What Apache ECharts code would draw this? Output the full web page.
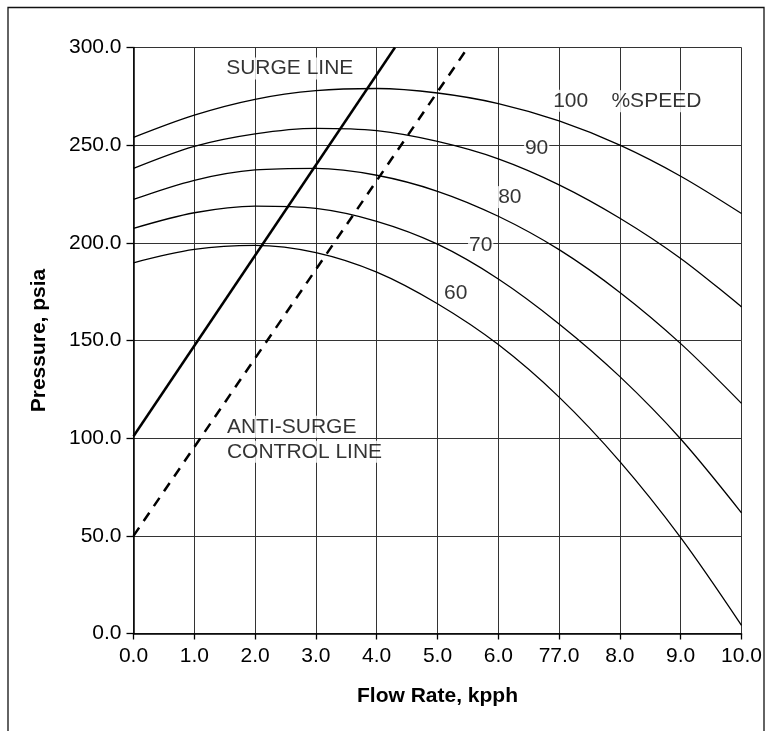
<!DOCTYPE html>
<html>
<head>
<meta charset="utf-8">
<script src="https://cdn.jsdelivr.net/npm/echarts@6/dist/echarts.min.js"></script>
<style>
html,body{margin:0;padding:0;background:#fff;}
#chart{width:771px;height:731px;}
</style>
</head>
<body>
<div id="chart"></div>
<script>
// ---- data ----
const flowRate = [0, 1, 2, 3, 4, 5, 6, 7, 8, 9, 10];
const speed100 = [254.0, 265.4, 273.5, 277.9, 279.0, 276.7, 271.3, 262.4, 250.0, 234.1, 215.0];
const speed90  = [238.1, 249.4, 255.8, 258.6, 257.4, 251.9, 243.0, 229.7, 212.6, 192.0, 167.2];
const speed80  = [222.2, 232.0, 237.3, 238.1, 234.6, 226.4, 213.6, 196.5, 174.6, 148.4, 117.8];
const speed70  = [207.4, 215.4, 218.8, 217.6, 211.0, 199.3, 181.5, 158.5, 131.5, 99.6, 61.8];
const speed60  = [189.8, 196.6, 198.7, 195.0, 185.0, 168.8, 147.9, 121.0, 88.0, 49.1, 4.2];

const surgeLineX = [0, 4.3];
const surgeLineY = [101, 300];
const antiSurgeX = [0, 5.5];
const antiSurgeY = [50, 300];

const xTickLabels = ['0.0', '1.0', '2.0', '3.0', '4.0', '5.0', '6.0', '77.0', '8.0', '9.0', '10.0'];
const yTickLabels = ['0.0', '50.0', '100.0', '150.0', '200.0', '250.0', '300.0'];

// annotations: text, x, y (data units), horizontal alignment
const annoText  = ['SURGE LINE', '100', '%SPEED', '90', '80', '70', '60', 'ANTI-SURGE', 'CONTROL LINE'];
const annoX     = [2.57, 7.19, 8.60, 6.63, 6.19, 5.71, 5.30, 1.52, 1.52];
const annoY     = [289.3, 272.7, 272.5, 248.3, 223.4, 198.8, 174.4, 105.8, 93.0];
const annoAlign = ['center', 'center', 'center', 'center', 'center', 'center', 'center', 'left', 'left'];

// ---- chart ----
const FONT = 'Liberation Sans, Arial, sans-serif';
const pairs = (xs, ys) => xs.map((x, i) => [x, ys[i]]);

function speedSeries(vals) {
  return {
    type: 'line',
    data: pairs(flowRate, vals),
    smooth: 0.33,
    showSymbol: false,
    symbol: 'none',
    lineStyle: { color: '#000', width: 1.3 },
    z: 3,
    silent: true
  };
}

const chart = echarts.init(document.getElementById('chart'), null, { renderer: 'canvas' });
chart.setOption({
  animation: false,
  backgroundColor: '#fff',
  textStyle: { fontFamily: FONT },
  grid: { left: 133.5, right: 29.5, top: 47.5, bottom: 97.5, containLabel: false },
  graphic: [{
    type: 'rect',
    shape: { x: 8, y: 7.5, width: 756, height: 800 },
    style: { fill: 'none', stroke: '#111', lineWidth: 1.3 },
    silent: true, z: -1
  }],
  xAxis: {
    type: 'value', min: 0, max: 10, interval: 1,
    name: 'Flow Rate, kpph', nameLocation: 'middle', nameGap: 52,
    nameTextStyle: { fontFamily: FONT, fontSize: 21, fontWeight: 'bold', color: '#000' },
    axisLine: { show: true, onZero: false, lineStyle: { color: '#000', width: 1.5 } },
    axisTick: { show: true, inside: false, length: 6, lineStyle: { color: '#000', width: 1.3 } },
    axisLabel: {
      fontFamily: FONT, fontSize: 21, color: '#000', margin: 12,
      formatter: v => xTickLabels[Math.round(v)]
    },
    splitLine: { show: true, lineStyle: { color: '#333', width: 1 } }
  },
  yAxis: {
    type: 'value', min: 0, max: 300, interval: 50,
    name: 'Pressure, psia', nameLocation: 'middle', nameGap: 84, nameRotate: 90,
    nameTextStyle: { fontFamily: FONT, fontSize: 21, fontWeight: 'bold', color: '#000' },
    axisLine: { show: true, onZero: false, lineStyle: { color: '#000', width: 1.5 } },
    axisTick: { show: true, inside: false, length: 7, lineStyle: { color: '#000', width: 1.3 } },
    axisLabel: {
      fontFamily: FONT, fontSize: 21, color: '#000', margin: 12,
      formatter: v => yTickLabels[Math.round(v / 50)]
    },
    splitLine: { show: true, lineStyle: { color: '#333', width: 1 } }
  },
  series: [
    speedSeries(speed100),
    speedSeries(speed90),
    speedSeries(speed80),
    speedSeries(speed70),
    speedSeries(speed60),
    {
      type: 'line', data: pairs(surgeLineX, surgeLineY), showSymbol: false, symbol: 'none',
      lineStyle: { color: '#000', width: 2.5 }, z: 4, silent: true
    },
    {
      type: 'line', data: pairs(antiSurgeX, antiSurgeY), showSymbol: false, symbol: 'none',
      lineStyle: { color: '#000', width: 2.5, type: [10, 8] }, z: 4, silent: true
    },
    {
      type: 'scatter', silent: true, z: 5,
      symbolSize: 1,
      itemStyle: { color: 'rgba(0,0,0,0)' },
      data: annoText.map((t, i) => ({
        name: t, value: [annoX[i], annoY[i]],
        label: { align: annoAlign[i] }
      })),
      label: {
        show: true, position: 'inside',
        formatter: p => p.name,
        fontFamily: FONT, fontSize: 21, color: '#000',
        backgroundColor: '#fff', padding: [1, 1, 0, 1]
      }
    }
  ]
});
</script>
</body>
</html>
